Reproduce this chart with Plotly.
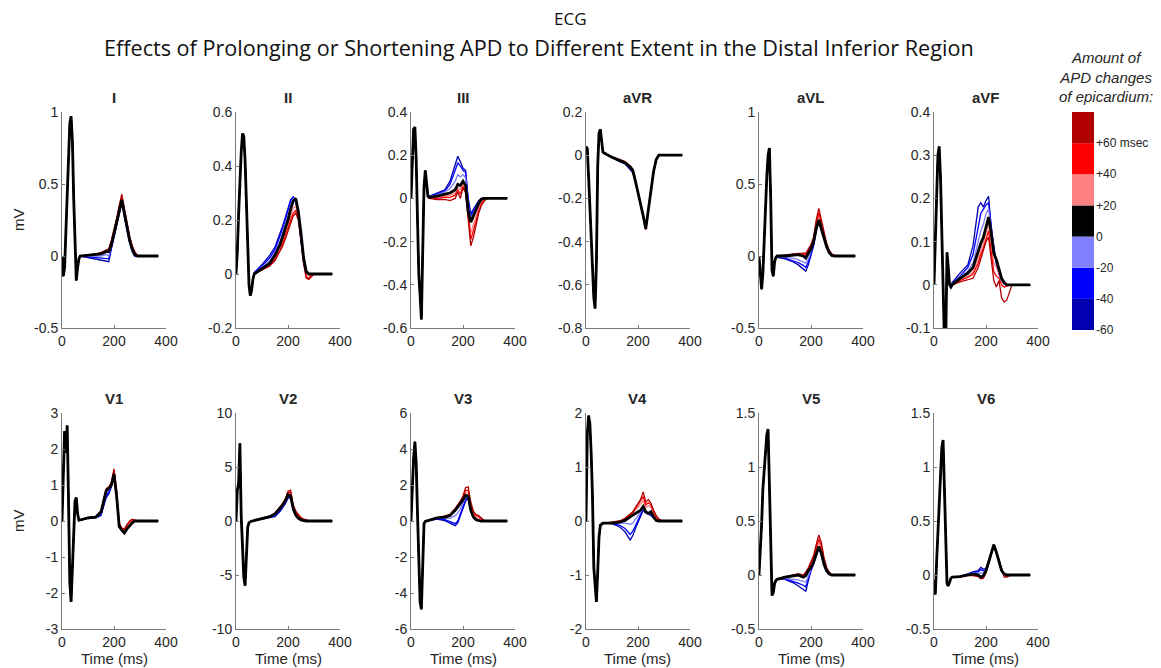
import plotly.graph_objects as go

W, H = 1161, 668

leads = ["I", "II", "III", "aVR", "aVL", "aVF", "V1", "V2", "V3", "V4", "V5", "V6"]

# time samples (ms)
qrs_time = [0, 5, 10, 15, 20, 25, 30, 35, 40, 45, 50, 55, 60, 65]
t_time = [70, 100, 130, 150, 170, 180, 190, 200, 210, 220, 230, 240, 250, 260, 270, 280, 290, 300, 370]

# ---- Lead I ----
I_qrs = [0, -0.14, -0.08, 0.2, 0.5, 0.75, 0.92, 0.97, 0.8, 0.4, 0.0, -0.17, -0.08, -0.02]
I_m60 = [0, -0.01, -0.02, -0.03, -0.035, -0.04, 0.05, 0.13, 0.21, 0.3, 0.37, 0.27, 0.17, 0.09, 0.03, 0.0, 0, 0, 0]
I_m40 = [0, -0.005, -0.01, -0.015, -0.02, -0.02, 0.06, 0.14, 0.22, 0.3, 0.38, 0.28, 0.18, 0.1, 0.04, 0.0, 0, 0, 0]
I_m20 = [0, 0.0, 0.0, 0.0, 0.01, 0.0, 0.07, 0.14, 0.22, 0.31, 0.38, 0.28, 0.18, 0.1, 0.04, 0.01, 0, 0, 0]
I_0 = [0, 0.005, 0.01, 0.015, 0.03, 0.03, 0.08, 0.15, 0.23, 0.31, 0.39, 0.29, 0.19, 0.11, 0.05, 0.01, 0, 0, 0]
I_p20 = [0, 0.005, 0.01, 0.02, 0.035, 0.04, 0.09, 0.16, 0.24, 0.33, 0.4, 0.3, 0.2, 0.12, 0.06, 0.02, 0.0, 0, 0]
I_p40 = [0, 0.005, 0.015, 0.02, 0.04, 0.045, 0.1, 0.17, 0.25, 0.34, 0.41, 0.31, 0.21, 0.13, 0.07, 0.02, 0.0, 0, 0]
I_p60 = [0, 0.005, 0.015, 0.025, 0.04, 0.05, 0.11, 0.18, 0.26, 0.35, 0.43, 0.33, 0.22, 0.14, 0.07, 0.03, 0.005, 0, 0]

# ---- Lead II ----
II_qrs = [0, 0.08, 0.22, 0.35, 0.45, 0.52, 0.51, 0.42, 0.25, 0.08, -0.04, -0.08, -0.06, -0.02]
II_m60 = [0.005, 0.035, 0.07, 0.1, 0.15, 0.18, 0.21, 0.245, 0.275, 0.285, 0.27, 0.2, 0.12, 0.04, 0.005, 0, 0, 0, 0]
II_m40 = [0.005, 0.03, 0.06, 0.09, 0.14, 0.17, 0.2, 0.235, 0.27, 0.285, 0.275, 0.21, 0.13, 0.05, 0.008, 0, 0, 0, 0]
II_m20 = [0.0, 0.025, 0.05, 0.08, 0.125, 0.155, 0.185, 0.22, 0.255, 0.28, 0.28, 0.22, 0.14, 0.055, 0.01, 0, 0, 0, 0]
II_0 = [0.0, 0.02, 0.04, 0.07, 0.11, 0.14, 0.17, 0.2, 0.24, 0.27, 0.28, 0.23, 0.15, 0.06, 0.01, 0.0, 0, 0, 0]
II_p20 = [0.0, 0.018, 0.035, 0.06, 0.1, 0.125, 0.155, 0.185, 0.22, 0.245, 0.25, 0.22, 0.14, 0.05, 0.0, -0.005, 0, 0, 0]
II_p40 = [0.0, 0.016, 0.032, 0.055, 0.09, 0.115, 0.14, 0.17, 0.2, 0.225, 0.235, 0.21, 0.135, 0.045, -0.01, -0.015, -0.005, 0, 0]
II_p60 = [0.0, 0.015, 0.03, 0.05, 0.085, 0.105, 0.13, 0.16, 0.19, 0.215, 0.225, 0.2, 0.13, 0.04, -0.015, -0.02, -0.01, 0, 0]

# ---- Lead III ----
III_qrs = [0, 0.15, 0.32, 0.33, 0.18, -0.1, -0.35, -0.45, -0.56, -0.25, 0.05, 0.13, 0.07, 0.01]
III_m60 = [0.01, 0.025, 0.04, 0.08, 0.16, 0.195, 0.17, 0.14, 0.13, 0.0, -0.07, -0.05, -0.03, -0.01, 0.0, 0, 0, 0, 0]
III_m40 = [0.01, 0.02, 0.035, 0.065, 0.13, 0.165, 0.15, 0.13, 0.12, -0.01, -0.08, -0.06, -0.035, -0.015, 0.0, 0, 0, 0, 0]
III_m20 = [0.008, 0.015, 0.03, 0.045, 0.08, 0.11, 0.1, 0.11, 0.095, -0.03, -0.095, -0.07, -0.04, -0.02, -0.003, 0, 0, 0, 0]
III_0 = [0.005, 0.01, 0.02, 0.025, 0.04, 0.065, 0.06, 0.08, 0.06, -0.06, -0.11, -0.08, -0.05, -0.025, -0.005, 0, 0, 0, 0]
III_p20 = [0.003, 0.005, 0.01, 0.015, 0.025, 0.05, 0.04, 0.065, 0.045, -0.08, -0.16, -0.12, -0.08, -0.045, -0.02, -0.005, 0, 0, 0]
III_p40 = [0.0, 0.0, 0.005, 0.005, 0.015, 0.04, 0.02, 0.055, 0.035, -0.09, -0.19, -0.15, -0.1, -0.06, -0.03, -0.01, 0, 0, 0]
III_p60 = [0.0, -0.005, -0.005, -0.01, 0.0, 0.03, 0.0, 0.05, 0.025, -0.1, -0.22, -0.18, -0.12, -0.07, -0.035, -0.015, -0.003, 0, 0]

# ---- Lead aVR ----
aVR_qrs = [0.04, 0.03, -0.1, -0.25, -0.4, -0.55, -0.66, -0.71, -0.5, -0.05, 0.1, 0.12, 0.05, 0.015]
aVR_m60 = [0.01, -0.012, -0.03, -0.04, -0.065, -0.08, -0.12, -0.17, -0.22, -0.28, -0.335, -0.245, -0.155, -0.07, -0.018, 0, 0, 0, 0]
aVR_m40 = [0.01, -0.011, -0.028, -0.038, -0.062, -0.077, -0.12, -0.17, -0.22, -0.28, -0.337, -0.247, -0.157, -0.072, -0.019, 0, 0, 0, 0]
aVR_m20 = [0.01, -0.01, -0.026, -0.036, -0.058, -0.073, -0.12, -0.17, -0.22, -0.28, -0.339, -0.249, -0.159, -0.074, -0.02, 0, 0, 0, 0]
aVR_0 = [0.01, -0.01, -0.025, -0.035, -0.055, -0.07, -0.12, -0.17, -0.22, -0.28, -0.34, -0.25, -0.16, -0.075, -0.02, 0, 0, 0, 0]
aVR_p20 = [0.01, -0.009, -0.023, -0.033, -0.053, -0.068, -0.117, -0.17, -0.222, -0.282, -0.342, -0.252, -0.162, -0.077, -0.021, 0, 0, 0, 0]
aVR_p40 = [0.01, -0.009, -0.021, -0.031, -0.051, -0.066, -0.116, -0.17, -0.224, -0.284, -0.344, -0.254, -0.164, -0.079, -0.022, 0, 0, 0, 0]
aVR_p60 = [0.01, -0.008, -0.02, -0.03, -0.05, -0.065, -0.115, -0.17, -0.225, -0.285, -0.345, -0.255, -0.165, -0.08, -0.022, 0, 0, 0, 0]

# ---- Lead aVL ----
aVL_qrs = [0, -0.15, -0.23, -0.12, 0.15, 0.35, 0.55, 0.7, 0.75, 0.4, -0.1, -0.14, -0.04, -0.01]
aVL_m60 = [-0.01, -0.02, -0.04, -0.06, -0.09, -0.105, -0.06, 0.0, 0.07, 0.17, 0.24, 0.18, 0.11, 0.06, 0.02, 0.0, 0, 0, 0]
aVL_m40 = [-0.005, -0.015, -0.03, -0.045, -0.065, -0.08, -0.04, 0.015, 0.08, 0.18, 0.245, 0.185, 0.115, 0.06, 0.022, 0.0, 0, 0, 0]
aVL_m20 = [0.0, -0.01, -0.015, -0.025, -0.04, -0.05, -0.02, 0.03, 0.09, 0.185, 0.25, 0.19, 0.12, 0.062, 0.024, 0.002, 0, 0, 0]
aVL_0 = [0.0, 0.0, 0.005, 0.01, 0.0, -0.015, 0.02, 0.05, 0.1, 0.19, 0.25, 0.19, 0.12, 0.065, 0.025, 0.003, 0, 0, 0]
aVL_p20 = [0.0, 0.005, 0.01, 0.015, 0.01, 0.0, 0.03, 0.06, 0.11, 0.21, 0.28, 0.21, 0.13, 0.07, 0.03, 0.008, 0, 0, 0]
aVL_p40 = [0.0, 0.005, 0.012, 0.018, 0.015, 0.01, 0.04, 0.07, 0.12, 0.23, 0.3, 0.23, 0.145, 0.08, 0.035, 0.01, 0.002, 0, 0]
aVL_p60 = [0.0, 0.008, 0.015, 0.02, 0.02, 0.02, 0.05, 0.08, 0.13, 0.25, 0.33, 0.25, 0.16, 0.09, 0.04, 0.015, 0.005, 0, 0]

# ---- Lead aVF ----
aVF_qrs = [0, 0.08, 0.2, 0.3, 0.32, 0.25, 0.12, 0.0, -0.13, -0.14, 0.075, 0.04, 0.0, -0.005]
aVF_m60 = [0.005, 0.027, 0.046, 0.09, 0.18, 0.19, 0.18, 0.195, 0.205, 0.13, 0.09, 0.05, 0.025, 0.01, 0.002, 0, 0, 0, 0]
aVF_m40 = [0.004, 0.02, 0.04, 0.07, 0.13, 0.165, 0.175, 0.185, 0.19, 0.13, 0.085, 0.05, 0.025, 0.01, 0.002, 0, 0, 0, 0]
aVF_m20 = [0.002, 0.018, 0.032, 0.05, 0.1, 0.125, 0.14, 0.165, 0.175, 0.125, 0.08, 0.055, 0.03, 0.012, 0.003, 0, 0, 0, 0]
aVF_0 = [0.0, 0.015, 0.027, 0.04, 0.08, 0.096, 0.11, 0.135, 0.157, 0.12, 0.073, 0.058, 0.035, 0.015, 0.005, 0, 0, 0, 0]
aVF_p20 = [0.0, 0.012, 0.02, 0.03, 0.06, 0.08, 0.095, 0.12, 0.14, 0.1, 0.05, 0.04, 0.025, 0.01, 0.003, 0, 0, 0, 0]
aVF_p40 = [0.0, 0.01, 0.017, 0.025, 0.05, 0.07, 0.085, 0.105, 0.125, 0.075, 0.03, 0.02, 0.015, 0.0, -0.005, -0.003, 0, 0, 0]
aVF_p60 = [0.0, 0.007, 0.012, 0.015, 0.04, 0.06, 0.08, 0.1, 0.11, 0.06, 0.01, -0.005, 0.01, -0.03, -0.04, -0.035, -0.015, 0, 0]

# ---- Lead V1 ----
V1_qrs = [0, 1.0, 2.5, 1.9, 2.65, 0.6, -1.7, -2.25, -1.3, -0.2, 0.55, 0.65, 0.2, 0.02]
V1_m60 = [0.02, 0.07, 0.09, 0.15, 0.65, 0.75, 0.95, 1.25, 0.65, -0.15, -0.27, -0.3, -0.2, -0.1, -0.04, 0, 0, 0, 0]
V1_m40 = [0.02, 0.08, 0.1, 0.18, 0.7, 0.8, 0.97, 1.27, 0.67, -0.15, -0.26, -0.31, -0.21, -0.11, -0.045, 0, 0, 0, 0]
V1_m20 = [0.02, 0.085, 0.105, 0.21, 0.78, 0.85, 0.99, 1.29, 0.68, -0.15, -0.255, -0.32, -0.215, -0.115, -0.048, 0, 0, 0, 0]
V1_0 = [0.03, 0.09, 0.11, 0.25, 0.84, 0.9, 1.0, 1.3, 0.7, -0.15, -0.25, -0.33, -0.22, -0.12, -0.05, 0.0, 0, 0, 0]
V1_p20 = [0.03, 0.09, 0.115, 0.26, 0.86, 0.92, 1.03, 1.35, 0.75, -0.12, -0.22, -0.28, -0.17, -0.07, -0.01, 0.01, 0, 0, 0]
V1_p40 = [0.03, 0.09, 0.12, 0.27, 0.88, 0.94, 1.05, 1.4, 0.8, -0.08, -0.2, -0.24, -0.12, -0.02, 0.03, 0.02, 0.0, 0, 0]
V1_p60 = [0.03, 0.09, 0.12, 0.28, 0.9, 0.95, 1.07, 1.45, 0.85, -0.05, -0.2, -0.22, -0.1, 0.0, 0.05, 0.02, 0.0, 0, 0]

# ---- Lead V2 ----
V2_qrs = [0, 2.8, 3.5, 7.2, 0.5, -2.4, -5.2, -6.0, -3.0, -0.6, -0.15, -0.05, 0.0, 0.02]
V2_m60 = [0.04, 0.2, 0.3, 0.4, 0.9, 1.2, 1.6, 2.1, 2.2, 1.0, 0.45, 0.2, 0.08, 0.02, 0, 0, 0, 0, 0]
V2_m40 = [0.045, 0.22, 0.33, 0.48, 1.0, 1.3, 1.7, 2.2, 2.25, 1.05, 0.48, 0.21, 0.09, 0.025, 0, 0, 0, 0, 0]
V2_m20 = [0.05, 0.23, 0.36, 0.56, 1.1, 1.4, 1.8, 2.3, 2.28, 1.1, 0.5, 0.23, 0.09, 0.03, 0, 0, 0, 0, 0]
V2_0 = [0.05, 0.25, 0.4, 0.65, 1.2, 1.5, 1.9, 2.45, 2.3, 1.15, 0.55, 0.25, 0.1, 0.03, 0.0, 0, 0, 0, 0]
V2_p20 = [0.05, 0.25, 0.42, 0.68, 1.25, 1.55, 1.95, 2.55, 2.5, 1.3, 0.7, 0.38, 0.2, 0.1, 0.03, 0.0, 0, 0, 0]
V2_p40 = [0.05, 0.26, 0.43, 0.7, 1.28, 1.6, 2.0, 2.65, 2.65, 1.4, 0.8, 0.48, 0.27, 0.15, 0.06, 0.01, 0, 0, 0]
V2_p60 = [0.05, 0.26, 0.44, 0.72, 1.3, 1.62, 2.05, 2.75, 2.85, 1.5, 0.9, 0.55, 0.3, 0.2, 0.08, 0.02, 0, 0, 0]

# ---- Lead V3 ----
V3_qrs = [0, 2.0, 3.5, 4.4, 3.2, 0.4, -2.5, -4.5, -4.9, -1.6, -0.15, -0.02, 0.0, 0.02]
V3_m60 = [0.03, 0.1, 0.02, -0.12, -0.26, -0.1, 0.3, 0.7, 1.1, 1.3, 0.55, 0.2, 0.05, 0.01, 0, 0, 0, 0, 0]
V3_m40 = [0.035, 0.12, 0.08, -0.05, -0.15, 0.0, 0.4, 0.8, 1.2, 1.35, 0.57, 0.21, 0.06, 0.015, 0, 0, 0, 0, 0]
V3_m20 = [0.04, 0.15, 0.16, 0.15, 0.3, 0.45, 0.7, 1.0, 1.3, 1.38, 0.58, 0.22, 0.065, 0.02, 0, 0, 0, 0, 0]
V3_0 = [0.04, 0.17, 0.22, 0.31, 0.59, 0.77, 0.95, 1.17, 1.42, 1.38, 0.59, 0.22, 0.07, 0.02, 0.0, 0, 0, 0, 0]
V3_p20 = [0.04, 0.17, 0.23, 0.33, 0.63, 0.82, 1.0, 1.25, 1.55, 1.55, 0.8, 0.4, 0.2, 0.15, 0.07, 0.02, 0, 0, 0]
V3_p40 = [0.04, 0.17, 0.24, 0.35, 0.66, 0.86, 1.05, 1.32, 1.7, 1.7, 0.95, 0.5, 0.3, 0.25, 0.12, 0.03, 0.0, 0, 0]
V3_p60 = [0.04, 0.17, 0.25, 0.37, 0.7, 0.9, 1.1, 1.4, 1.85, 1.9, 1.05, 0.55, 0.35, 0.32, 0.15, 0.04, 0.0, 0, 0]

# ---- Lead V4 ----
V4_qrs = [0, 1.6, 1.95, 1.8, 1.25, 0.45, -0.86, -1.3, -1.5, -0.95, -0.3, -0.08, -0.05, -0.04]
V4_m60 = [-0.04, -0.05, -0.11, -0.2, -0.35, -0.27, -0.14, -0.02, 0.1, 0.2, 0.15, 0.12, 0.1, 0.05, 0.01, 0, 0, 0, 0]
V4_m40 = [-0.04, -0.045, -0.08, -0.14, -0.25, -0.19, -0.09, 0.02, 0.12, 0.22, 0.15, 0.13, 0.12, 0.055, 0.01, 0, 0, 0, 0]
V4_m20 = [-0.04, -0.04, -0.04, -0.04, -0.06, -0.04, 0.03, 0.1, 0.16, 0.24, 0.16, 0.13, 0.14, 0.06, 0.01, 0, 0, 0, 0]
V4_0 = [-0.04, -0.04, -0.02, 0.01, 0.075, 0.1, 0.14, 0.17, 0.2, 0.27, 0.17, 0.14, 0.17, 0.075, 0.01, 0.0, 0, 0, 0]
V4_p20 = [-0.04, -0.035, -0.01, 0.03, 0.1, 0.14, 0.2, 0.26, 0.3, 0.37, 0.25, 0.28, 0.25, 0.14, 0.05, 0.01, 0, 0, 0]
V4_p40 = [-0.04, -0.03, 0.0, 0.04, 0.12, 0.16, 0.23, 0.3, 0.36, 0.45, 0.3, 0.34, 0.29, 0.17, 0.08, 0.02, 0.0, 0, 0]
V4_p60 = [-0.04, -0.02, 0.0, 0.05, 0.14, 0.17, 0.25, 0.33, 0.4, 0.54, 0.35, 0.4, 0.33, 0.2, 0.1, 0.04, 0.01, 0, 0]

# ---- Lead V5 ----
V5_qrs = [0, 0.2, 0.47, 0.8, 1.0, 1.15, 1.3, 1.35, 0.85, 0.25, -0.19, -0.16, -0.08, -0.05]
V5_m60 = [-0.04, -0.04, -0.07, -0.1, -0.13, -0.15, -0.05, 0.04, 0.1, 0.18, 0.25, 0.19, 0.09, 0.03, 0.005, 0, 0, 0, 0]
V5_m40 = [-0.04, -0.035, -0.055, -0.075, -0.095, -0.11, -0.03, 0.05, 0.11, 0.19, 0.255, 0.195, 0.095, 0.035, 0.007, 0, 0, 0, 0]
V5_m20 = [-0.04, -0.03, -0.035, -0.045, -0.06, -0.065, -0.01, 0.06, 0.115, 0.195, 0.26, 0.2, 0.1, 0.038, 0.009, 0, 0, 0, 0]
V5_0 = [-0.04, -0.02, -0.006, 0.0, -0.02, -0.006, 0.04, 0.07, 0.12, 0.2, 0.265, 0.2, 0.1, 0.04, 0.01, 0.0, 0, 0, 0]
V5_p20 = [-0.04, -0.02, 0.0, 0.005, -0.01, 0.01, 0.05, 0.1, 0.15, 0.24, 0.3, 0.24, 0.13, 0.055, 0.018, 0.003, 0, 0, 0]
V5_p40 = [-0.04, -0.02, 0.0, 0.008, -0.005, 0.02, 0.06, 0.115, 0.165, 0.26, 0.33, 0.27, 0.145, 0.065, 0.022, 0.004, 0, 0, 0]
V5_p60 = [-0.04, -0.02, 0.0, 0.01, 0.0, 0.025, 0.07, 0.13, 0.18, 0.28, 0.37, 0.3, 0.16, 0.07, 0.025, 0.005, 0, 0, 0]

# ---- Lead V6 ----
V6_qrs = [-0.05, -0.18, 0.12, 0.42, 0.72, 1.0, 1.18, 1.25, 0.85, 0.35, -0.08, -0.1, -0.07, -0.03]
V6_m60 = [-0.02, -0.01, 0.01, 0.03, 0.04, 0.07, 0.055, 0.06, 0.12, 0.2, 0.27, 0.2, 0.11, 0.035, 0.005, 0, 0, 0, 0]
V6_m40 = [-0.02, -0.012, 0.008, 0.025, 0.03, 0.05, 0.04, 0.055, 0.12, 0.205, 0.275, 0.205, 0.115, 0.037, 0.007, 0, 0, 0, 0]
V6_m20 = [-0.02, -0.014, 0.004, 0.018, 0.015, 0.02, 0.015, 0.05, 0.12, 0.208, 0.278, 0.208, 0.118, 0.038, 0.008, 0, 0, 0, 0]
V6_0 = [-0.02, -0.015, 0.0, 0.01, 0.0, -0.02, -0.006, 0.04, 0.12, 0.21, 0.28, 0.21, 0.12, 0.04, 0.01, 0.0, 0, 0, 0]
V6_p20 = [-0.02, -0.015, -0.002, 0.005, -0.005, -0.025, -0.015, 0.035, 0.115, 0.21, 0.28, 0.215, 0.125, 0.05, 0.005, -0.005, 0, 0, 0]
V6_p40 = [-0.02, -0.016, -0.004, 0.0, -0.01, -0.03, -0.025, 0.03, 0.11, 0.205, 0.28, 0.22, 0.13, 0.055, 0.0, -0.015, -0.005, 0, 0]
V6_p60 = [-0.02, -0.017, -0.005, -0.005, -0.015, -0.035, -0.03, 0.02, 0.1, 0.2, 0.28, 0.22, 0.13, 0.06, -0.02, -0.02, -0.005, 0, 0]

# axis ranges and tick labels per lead
y_ranges = {
    "I": [-0.5, 1], "II": [-0.2, 0.6], "III": [-0.6, 0.4], "aVR": [-0.8, 0.2],
    "aVL": [-0.5, 1], "aVF": [-0.1, 0.4], "V1": [-3, 3], "V2": [-10, 10],
    "V3": [-6, 6], "V4": [-2, 2], "V5": [-0.5, 1.5], "V6": [-0.5, 1.5],
}
y_tickvals = {
    "I": [-0.5, 0, 0.5, 1], "II": [-0.2, 0, 0.2, 0.4, 0.6],
    "III": [-0.6, -0.4, -0.2, 0, 0.2, 0.4], "aVR": [-0.8, -0.6, -0.4, -0.2, 0, 0.2],
    "aVL": [-0.5, 0, 0.5, 1], "aVF": [-0.1, 0, 0.1, 0.2, 0.3, 0.4],
    "V1": [-3, -2, -1, 0, 1, 2, 3], "V2": [-10, -5, 0, 5, 10],
    "V3": [-6, -4, -2, 0, 2, 4, 6], "V4": [-2, -1, 0, 1, 2],
    "V5": [-0.5, 0, 0.5, 1, 1.5], "V6": [-0.5, 0, 0.5, 1, 1.5],
}
y_ticktext = {
    "I": ["-0.5", "0", "0.5", "1"], "II": ["-0.2", "0", "0.2", "0.4", "0.6"],
    "III": ["-0.6", "-0.4", "-0.2", "0", "0.2", "0.4"], "aVR": ["-0.8", "-0.6", "-0.4", "-0.2", "0", "0.2"],
    "aVL": ["-0.5", "0", "0.5", "1"], "aVF": ["-0.1", "0", "0.1", "0.2", "0.3", "0.4"],
    "V1": ["-3", "-2", "-1", "0", "1", "2", "3"], "V2": ["-10", "-5", "0", "5", "10"],
    "V3": ["-6", "-4", "-2", "0", "2", "4", "6"], "V4": ["-2", "-1", "0", "1", "2"],
    "V5": ["-0.5", "0", "0.5", "1", "1.5"], "V6": ["-0.5", "0", "0.5", "1", "1.5"],
}
x_tickvals = [0, 200, 400]
x_ticktext = ["0", "200", "400"]

series_keys = ["m60", "m40", "m20", "p20", "p40", "p60", "0"]  # draw order (black on top)
series_colors = {"m60": "#0000B0", "m40": "#0000FF", "m20": "#8080FF", "0": "#000000",
                 "p20": "#FF8080", "p40": "#FF0000", "p60": "#B00000"}
series_widths = {"m60": 1.3, "m40": 1.3, "m20": 1.3, "0": 2.8, "p20": 1.3, "p40": 1.3, "p60": 1.3}

g = globals()
qrs = {ld: g[ld + "_qrs"] for ld in leads}
tpart = {ld: {k: g[ld + "_" + k] for k in series_keys} for ld in leads}

# legend (color scale) values
legend_base = [-60, -40, -20, 0, 20, 40, 60]
legend_height = [20, 20, 20, 20, 20, 20, 20]
legend_colors = ["#0000B0", "#0000FF", "#8080FF", "#000000", "#FF8080", "#FF0000", "#B00000"]
legend_tickvals = [-60, -40, -20, 0, 20, 40, 60]
legend_ticktext = ["-60", "-40", "-20", "0", "+20", "+40", "+60 msec"]

# ---- layout geometry (pixels) ----
col_left = [62, 236, 411, 586, 759, 934]
ax_w = 104
row_top = [112, 413]
ax_h = 216

AX_COLOR = "#7a7a7a"
TXT = "#262626"
FONT = "Liberation Sans, Arial, sans-serif"

fig = go.Figure()
layout = {}
annotations = []

for i, ld in enumerate(leads):
    r, c = divmod(i, 6)
    xn = "x" if i == 0 else f"x{i+1}"
    yn = "y" if i == 0 else f"y{i+1}"
    xs = qrs_time + t_time
    for k in series_keys:
        fig.add_trace(go.Scatter(
            x=xs, y=qrs[ld] + tpart[ld][k], mode="lines",
            line=dict(color=series_colors[k], width=series_widths[k]),
            xaxis=xn, yaxis=yn, showlegend=False, hoverinfo="skip"))
    x0 = col_left[c] / W
    x1 = (col_left[c] + ax_w) / W
    y1 = 1 - row_top[r] / H
    y0 = 1 - (row_top[r] + ax_h) / H
    common = dict(showline=True, linecolor=AX_COLOR, linewidth=1, ticks="inside",
                  ticklen=3, tickcolor=AX_COLOR, showgrid=False, zeroline=False,
                  automargin=False,
                  tickfont=dict(size=14, color=TXT, family=FONT), fixedrange=True)
    layout["xaxis" if i == 0 else f"xaxis{i+1}"] = dict(
        domain=[x0, x1], range=[0, 400], anchor=yn,
        tickmode="array", tickvals=x_tickvals, ticktext=x_ticktext, **common)
    layout["yaxis" if i == 0 else f"yaxis{i+1}"] = dict(
        domain=[y0, y1], range=y_ranges[ld], anchor=xn,
        tickmode="array", tickvals=y_tickvals[ld], ticktext=y_ticktext[ld], **common)
    annotations.append(dict(text="<b>" + ld + "</b>", x=(x0 + x1) / 2, y=y1 + 15 / H,
                            xref="paper", yref="paper", showarrow=False,
                            font=dict(size=15, color=TXT, family=FONT),
                            xanchor="center", yanchor="middle"))
    if r == 1:
        annotations.append(dict(text="Time (ms)", x=(x0 + x1) / 2, y=1 - 658 / H,
                                xref="paper", yref="paper", showarrow=False,
                                font=dict(size=15, color=TXT, family=FONT),
                                xanchor="center", yanchor="middle"))

# mV labels
for r in range(2):
    annotations.append(dict(text="mV", x=18 / W, y=1 - (row_top[r] + ax_h / 2) / H,
                            xref="paper", yref="paper", showarrow=False, textangle=-90,
                            font=dict(size=15, color=TXT, family=FONT),
                            xanchor="center", yanchor="middle"))

# titles
annotations.append(dict(text="ECG", x=570 / W, y=1 - 18 / H, xref="paper", yref="paper",
                        showarrow=False, font=dict(size=17, color="#111111", family="Open Sans"),
                        xanchor="center", yanchor="middle"))
annotations.append(dict(text="Effects of Prolonging or Shortening APD to Different Extent in the Distal Inferior Region",
                        x=539 / W, y=1 - 47 / H, xref="paper", yref="paper",
                        showarrow=False, font=dict(size=21.6, color="#111111", family="Open Sans"),
                        xanchor="center", yanchor="middle"))

# legend title
annotations.append(dict(text="<i>Amount of<br>APD changes<br>of epicardium:</i>",
                        x=1106 / W, y=1 - 77 / H, xref="paper", yref="paper",
                        showarrow=False, font=dict(size=15, color=TXT, family=FONT),
                        xanchor="center", yanchor="middle", align="center"))

# color scale legend as stacked bars
fig.add_trace(go.Bar(x=[0] * 7, y=legend_height, base=legend_base,
                     marker=dict(color=legend_colors, line=dict(width=0)),
                     width=1, xaxis="x13", yaxis="y13", showlegend=False, hoverinfo="skip"))
layout["xaxis13"] = dict(domain=[1072 / W, 1094 / W], range=[-0.5, 0.5], visible=False,
                         anchor="y13", fixedrange=True, automargin=False)
layout["yaxis13"] = dict(domain=[1 - 330 / H, 1 - 112 / H], range=[-60, 80], anchor="x13",
                         side="right", showline=False, showgrid=False, zeroline=False,
                         ticks="", tickmode="array", tickvals=legend_tickvals,
                         ticktext=legend_ticktext, ticklabelstandoff=1, automargin=False,
                         tickfont=dict(size=12, color=TXT, family=FONT), fixedrange=True)

fig.update_layout(
    template="none",
    width=W, height=H, autosize=False,
    margin=dict(l=0, r=0, t=0, b=0, pad=0),
    paper_bgcolor="white", plot_bgcolor="white",
    annotations=annotations, showlegend=False, **layout)

fig.write_html("out.html", config={"displayModeBar": False},
               post_script="document.body.style.margin='0';document.body.style.overflow='hidden';")
